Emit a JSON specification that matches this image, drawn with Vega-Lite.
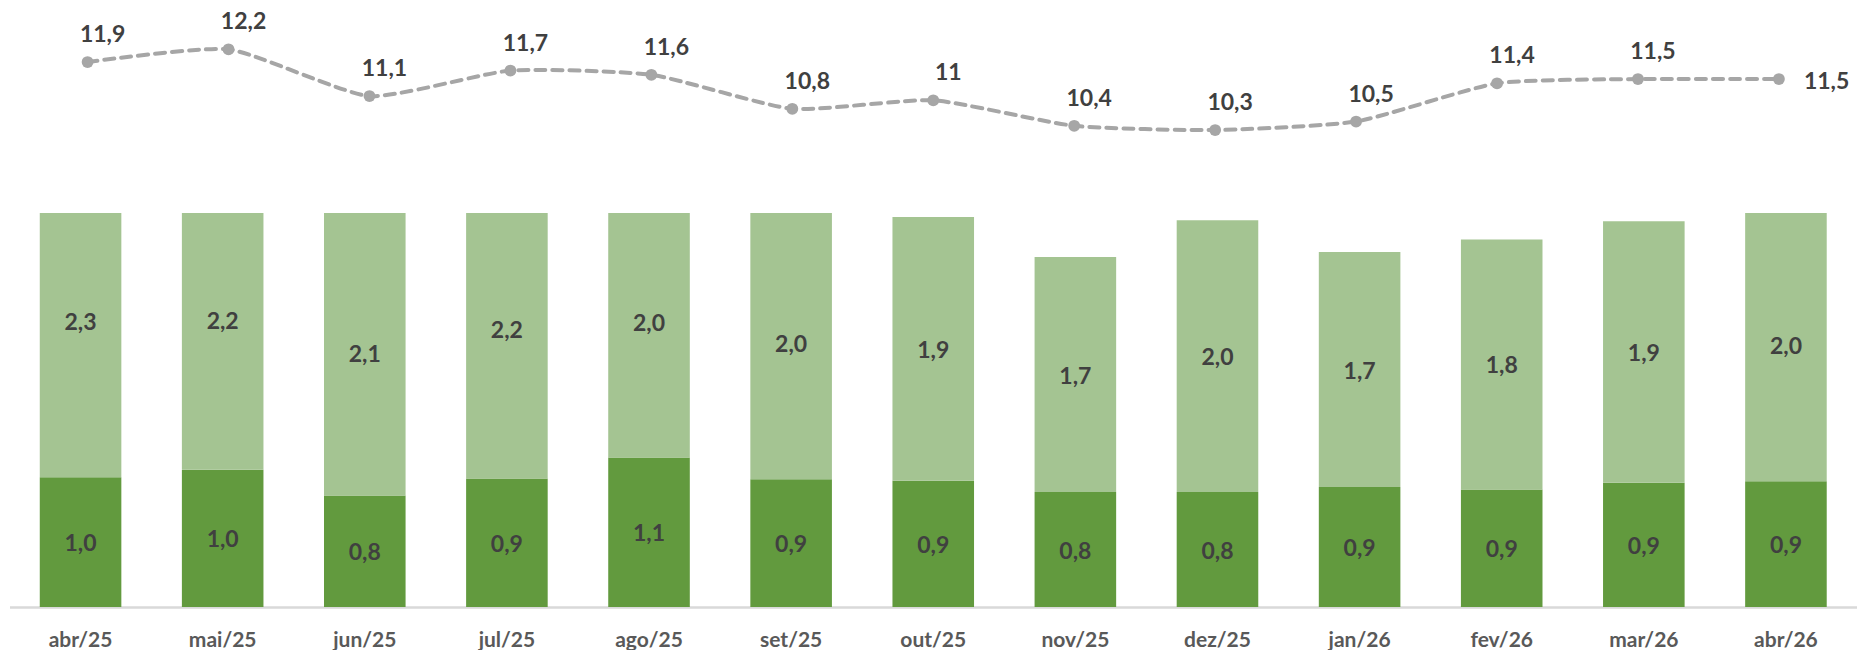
{
  "$schema": "https://vega.github.io/schema/vega-lite/v6.json",
  "padding": {"left": 9.5, "top": 0, "right": 0, "bottom": 0},
  "background": "white",
  "config": {
    "locale": {"number": {"decimal": ",", "thousands": ".", "grouping": [3], "currency": ["", ""]}},
    "view": {"stroke": null},
    "font": "Lato"
  },
  "datasets": {
    "linha": [
      {"mes": "abr/25", "valor": 11.9},
      {"mes": "mai/25", "valor": 12.2},
      {"mes": "jun/25", "valor": 11.1},
      {"mes": "jul/25", "valor": 11.7},
      {"mes": "ago/25", "valor": 11.6},
      {"mes": "set/25", "valor": 10.8},
      {"mes": "out/25", "valor": 11},
      {"mes": "nov/25", "valor": 10.4},
      {"mes": "dez/25", "valor": 10.3},
      {"mes": "jan/26", "valor": 10.5},
      {"mes": "fev/26", "valor": 11.4},
      {"mes": "mar/26", "valor": 11.5},
      {"mes": "abr/26", "valor": 11.5}
    ],
    "barras": [
      {"mes": "abr/25", "serie": "s1", "ordem": 1, "valor": 0.955},
      {"mes": "abr/25", "serie": "s2", "ordem": 2, "valor": 2.3},
      {"mes": "mai/25", "serie": "s1", "ordem": 1, "valor": 1.01},
      {"mes": "mai/25", "serie": "s2", "ordem": 2, "valor": 2.2},
      {"mes": "jun/25", "serie": "s1", "ordem": 1, "valor": 0.82},
      {"mes": "jun/25", "serie": "s2", "ordem": 2, "valor": 2.1},
      {"mes": "jul/25", "serie": "s1", "ordem": 1, "valor": 0.945},
      {"mes": "jul/25", "serie": "s2", "ordem": 2, "valor": 2.2},
      {"mes": "ago/25", "serie": "s1", "ordem": 1, "valor": 1.1},
      {"mes": "ago/25", "serie": "s2", "ordem": 2, "valor": 2.0},
      {"mes": "set/25", "serie": "s1", "ordem": 1, "valor": 0.94},
      {"mes": "set/25", "serie": "s2", "ordem": 2, "valor": 2.0},
      {"mes": "out/25", "serie": "s1", "ordem": 1, "valor": 0.93},
      {"mes": "out/25", "serie": "s2", "ordem": 2, "valor": 1.94},
      {"mes": "nov/25", "serie": "s1", "ordem": 1, "valor": 0.846},
      {"mes": "nov/25", "serie": "s2", "ordem": 2, "valor": 1.73},
      {"mes": "dez/25", "serie": "s1", "ordem": 1, "valor": 0.846},
      {"mes": "dez/25", "serie": "s2", "ordem": 2, "valor": 2.0},
      {"mes": "jan/26", "serie": "s1", "ordem": 1, "valor": 0.883},
      {"mes": "jan/26", "serie": "s2", "ordem": 2, "valor": 1.73},
      {"mes": "fev/26", "serie": "s1", "ordem": 1, "valor": 0.865},
      {"mes": "fev/26", "serie": "s2", "ordem": 2, "valor": 1.84},
      {"mes": "mar/26", "serie": "s1", "ordem": 1, "valor": 0.915},
      {"mes": "mar/26", "serie": "s2", "ordem": 2, "valor": 1.925},
      {"mes": "abr/26", "serie": "s1", "ordem": 1, "valor": 0.925},
      {"mes": "abr/26", "serie": "s2", "ordem": 2, "valor": 2.0}
    ]
  },
  "spacing": 43,
  "resolve": {"scale": {"x": "independent"}},
  "vconcat": [
    {
      "width": 1847.5,
      "height": 170,
      "data": {"name": "linha"},
      "encoding": {
        "x": {"field": "mes", "type": "nominal", "sort": ["abr/25","mai/25","jun/25","jul/25","ago/25","set/25","out/25","nov/25","dez/25","jan/26","fev/26","mar/26","abr/26"], "scale": {"type": "point", "padding": 0.554}, "axis": null},
        "y": {"field": "valor", "type": "quantitative", "scale": {"domain": [9.36, 13.36], "zero": false, "nice": false}, "axis": null}
      },
      "layer": [
        {"mark": {"type": "line", "interpolate": "cardinal", "tension": 0.45, "strokeDash": [10, 7], "strokeWidth": 4, "strokeCap": "round", "color": "#A6A6A6"}},
        {"mark": {"type": "point", "filled": true, "size": 140, "color": "#A6A6A6", "opacity": 1}},
        {
          "transform": [{"filter": "datum.mes != 'abr/26'"}],
          "mark": {"type": "text", "dx": 15, "dy": -27, "fontSize": 23, "fontWeight": "bold", "color": "#404040"},
          "encoding": {"text": {"field": "valor", "type": "quantitative", "format": "~g"}}
        },
        {
          "transform": [{"filter": "datum.mes == 'abr/26'"}],
          "mark": {"type": "text", "align": "left", "dx": 25, "dy": 3, "fontSize": 23, "fontWeight": "bold", "color": "#404040"},
          "encoding": {"text": {"field": "valor", "type": "quantitative", "format": "~g"}}
        }
      ]
    },
    {
      "width": 1847.5,
      "height": 394,
      "data": {"name": "barras"},
      "transform": [
        {"stack": "valor", "groupby": ["mes"], "sort": [{"field": "ordem", "order": "ascending"}], "as": ["v0", "v1"]}
      ],
      "layer": [
        {
          "mark": {"type": "bar"},
          "encoding": {
            "x": {"field": "mes", "type": "nominal", "sort": ["abr/25","mai/25","jun/25","jul/25","ago/25","set/25","out/25","nov/25","dez/25","jan/26","fev/26","mar/26","abr/26"], "scale": {"paddingInner": 0.426, "paddingOuter": 0.213},
              "axis": {"title": null, "domainColor": "#D9D9D9", "domainWidth": 2.3, "ticks": false, "labelPadding": 22, "labelFontSize": 21, "labelFont": "Lato", "labelFontWeight": "bold", "labelColor": "#595959", "labelAngle": 0}},
            "y": {"field": "v1", "type": "quantitative", "scale": {"domain": [0, 2.9], "clamp": true, "nice": false}, "axis": null},
            "y2": {"field": "v0"},
            "color": {"field": "serie", "type": "nominal", "scale": {"domain": ["s1", "s2"], "range": ["#629A3E", "#A4C492"]}, "legend": null}
          }
        },
        {
          "transform": [{"fold": ["v0", "v1"], "as": ["borda", "pos"]}],
          "mark": {"type": "text", "fontSize": 23, "fontWeight": "bold", "color": "#404040", "dy": 2},
          "encoding": {
            "x": {"field": "mes", "type": "nominal", "sort": ["abr/25","mai/25","jun/25","jul/25","ago/25","set/25","out/25","nov/25","dez/25","jan/26","fev/26","mar/26","abr/26"]},
            "y": {"aggregate": "mean", "field": "pos", "type": "quantitative"},
            "detail": {"field": "serie", "type": "nominal"},
            "text": {"aggregate": "max", "field": "valor", "type": "quantitative", "format": ".1f"}
          }
        }
      ]
    }
  ]
}
